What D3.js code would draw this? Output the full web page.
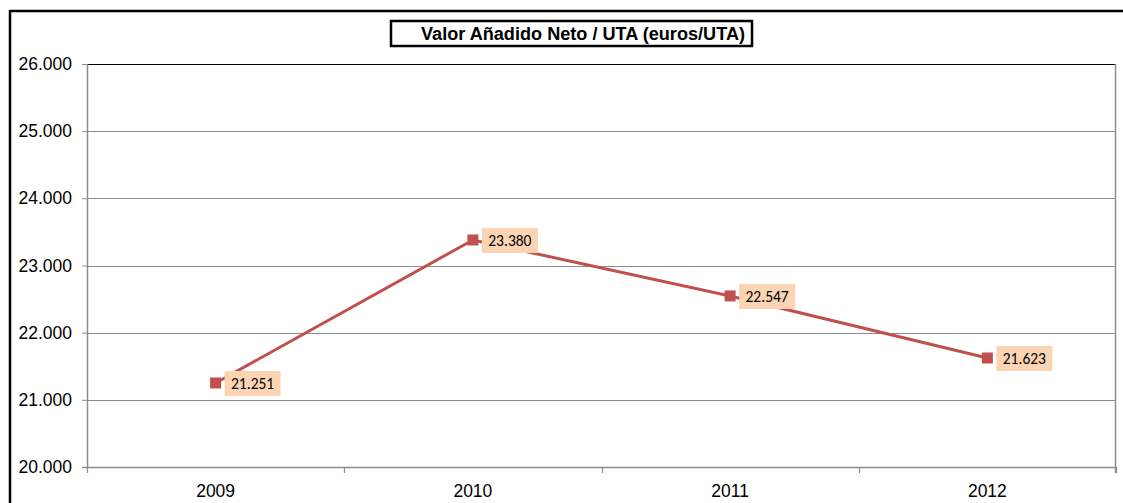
<!DOCTYPE html>
<html>
<head>
<meta charset="utf-8">
<script src="https://cdn.jsdelivr.net/npm/d3@7"></script>
<style>
  body { margin: 0; background: #fff; }
  svg { display: block; }
</style>
</head>
<body>
<svg id="chart" width="1123" height="503"></svg>
<script>
// data
const years = ["2009", "2010", "2011", "2012"];
const values = [21251, 23380, 22547, 21623];
const yTicks = [20000, 21000, 22000, 23000, 24000, 25000, 26000];
const title = "Valor Añadido Neto / UTA (euros/UTA)";

const svg = d3.select("#chart");
const margins = { top: 64, right: 7, bottom: 36, left: 87 };
const plotWidth = 1123 - margins.left - margins.right;
const plotHeight = 503 - margins.top - margins.bottom;
const axisFont = "'Liberation Sans', Arial, sans-serif";

// number format with dot as thousands separator
const fmt = d3.formatLocale({ decimal: ",", thousands: ".", grouping: [3], currency: ["", "€"] }).format(",.0f");

// outer frame (only top and left edges are visible)
svg.append("line").attr("x1", 10).attr("x2", 1123).attr("y1", 11).attr("y2", 11)
    .attr("stroke", "#000").attr("stroke-width", 2.5);
svg.append("line").attr("x1", 10).attr("x2", 10).attr("y1", 10).attr("y2", 503)
    .attr("stroke", "#000").attr("stroke-width", 2.5);

// title box
svg.append("rect").attr("x", 391).attr("y", 21).attr("width", 361).attr("height", 25)
    .attr("fill", "#fff").attr("stroke", "#000").attr("stroke-width", 2.5);
svg.append("text").attr("x", 421).attr("y", 40)
    .attr("font-family", axisFont)
    .attr("font-size", 17.5).attr("font-weight", "bold").attr("fill", "#000")
    .attr("textLength", 324).attr("lengthAdjust", "spacingAndGlyphs")
    .text(title);

let chartArea = svg.append("g")
    .attr("transform", "translate(" + margins.left + ", " + margins.top + ")");

const xScale = d3.scaleBand().domain(years).range([0, plotWidth]);
const yScale = d3.scaleLinear().domain([20000, 26000]).range([plotHeight, 0]);

// gridlines
chartArea.selectAll(".grid").data(yTicks.slice(1, -1)).enter().append("line")
    .attr("x1", 0).attr("x2", plotWidth)
    .attr("y1", d => Math.round(yScale(d)) + 0.5).attr("y2", d => Math.round(yScale(d)) + 0.5)
    .attr("stroke", "#8c8c8c").attr("stroke-width", 1);

// plot border: black top, grey right
chartArea.append("line").attr("x1", 0).attr("x2", plotWidth).attr("y1", 0.5).attr("y2", 0.5)
    .attr("stroke", "#000");
chartArea.append("line").attr("x1", plotWidth - 0.5).attr("x2", plotWidth - 0.5).attr("y1", 0).attr("y2", plotHeight + 6)
    .attr("stroke", "#8c8c8c").attr("stroke-width", 1.5);

// y axis
const yAxis = d3.axisLeft(yScale).tickValues(yTicks).tickSize(5).tickPadding(10).tickFormat(fmt);
const gy = chartArea.append("g").call(yAxis);
gy.select(".domain").attr("stroke", "#8c8c8c").attr("stroke-width", 1.5).attr("d", "M0.5,0V" + plotHeight);
gy.selectAll(".tick line").attr("stroke", "#8c8c8c");
gy.selectAll(".tick text").attr("font-family", axisFont)
    .attr("font-size", 17.5).attr("fill", "#000");

// x axis: ticks on band edges, labels at centers
const gx = chartArea.append("g").attr("transform", "translate(0, " + plotHeight + ")");
gx.append("line").attr("x1", -5).attr("x2", plotWidth).attr("y1", 0.5).attr("y2", 0.5)
    .attr("stroke", "#8c8c8c").attr("stroke-width", 1.5);
const edges = years.map(y => xScale(y)).concat([plotWidth]);
gx.selectAll(".xtick").data(edges).enter().append("line")
    .attr("x1", d => Math.round(d) + 0.5).attr("x2", d => Math.round(d) + 0.5)
    .attr("y1", 0).attr("y2", 6).attr("stroke", "#8c8c8c").attr("stroke-width", 1.2);
gx.selectAll(".xlab").data(years).enter().append("text")
    .attr("x", d => xScale(d) + xScale.bandwidth() / 2)
    .attr("y", 30)
    .attr("text-anchor", "middle")
    .attr("font-family", axisFont)
    .attr("font-size", 17.5).attr("fill", "#000")
    .text(d => d);

// series line
const line = d3.line()
    .x((d, i) => xScale(years[i]) + xScale.bandwidth() / 2)
    .y(d => yScale(d));
chartArea.append("path").datum(values)
    .attr("d", line).attr("fill", "none")
    .attr("stroke", "#C0504D").attr("stroke-width", 3);

// markers and labels
values.forEach(function (d, i) {
    const cx = xScale(years[i]) + xScale.bandwidth() / 2;
    const cy = yScale(d);
    chartArea.append("rect")
        .attr("x", cx - 5.5).attr("y", cy - 5.5)
        .attr("width", 11).attr("height", 11)
        .attr("fill", "#C0504D");
    chartArea.append("rect")
        .attr("x", cx + 9).attr("y", cy - 12)
        .attr("width", 56).attr("height", 25)
        .attr("fill", "#FBD4B4");
    chartArea.append("text")
        .attr("x", cx + 37).attr("y", cy + 6)
        .attr("text-anchor", "middle")
        .attr("font-family", "Carlito, Calibri, 'Noto Sans', sans-serif")
        .attr("font-size", 15.5).attr("fill", "#000")
        .text(fmt(d));
});
</script>
</body>
</html>
